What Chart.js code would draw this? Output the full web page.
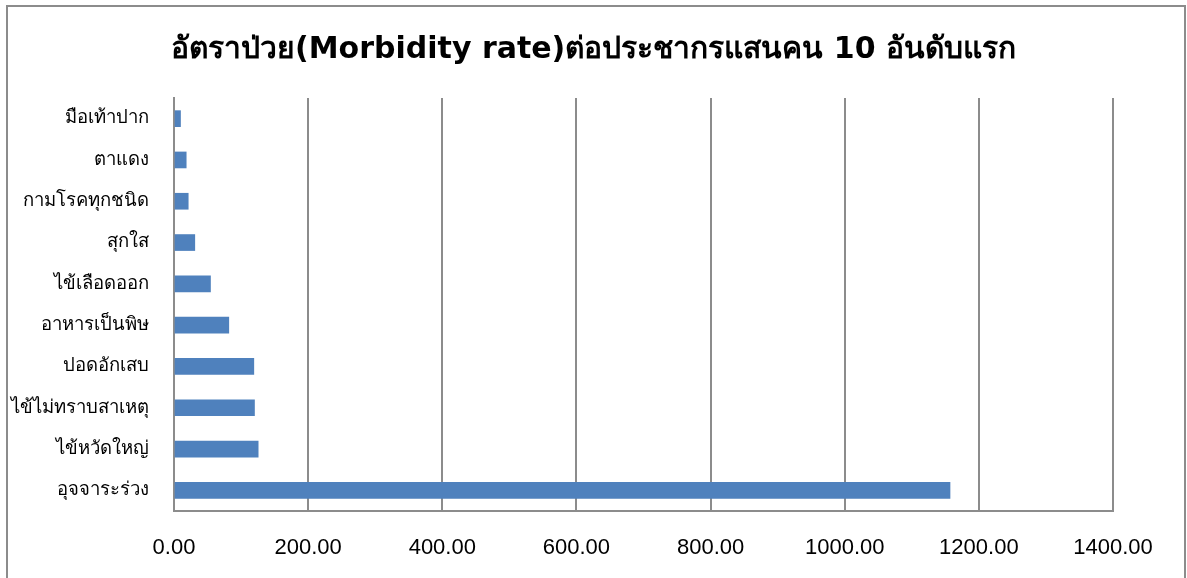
<!DOCTYPE html>
<html>
<head>
<meta charset="utf-8">
<script src="https://cdn.jsdelivr.net/npm/chart.js@4"></script>
<style>
  html, body { margin: 0; padding: 0; background: #fff; }
  #wrap { position: absolute; left: 0; top: 0; width: 1187px; height: 578px; }
  #frame { position: absolute; left: 6px; top: 5px; width: 1180px; height: 600px; border: 2px solid #8c8c8c; box-sizing: border-box; pointer-events: none; }
  canvas { position: absolute; left: 0; top: 0; }
</style>
</head>
<body>
<div id="wrap">
  <canvas id="c" width="1187" height="578"></canvas>
  <div id="frame"></div>
</div>
<script>
const titleText = 'อัตราป่วย(Morbidity rate)ต่อประชากรแสนคน 10 อันดับแรก';
const categories = ['มือเท้าปาก', 'ตาแดง', 'กามโรคทุกชนิด', 'สุกใส', 'ไข้เลือดออก', 'อาหารเป็นพิษ', 'ปอดอักเสบ', 'ไข้ไม่ทราบสาเหตุ', 'ไข้หวัดใหญ่', 'อุจจาระร่วง'];
const rates = [9.7, 18.2, 21.2, 31.0, 54.4, 81.7, 119.0, 120.0, 125.5, 1157.0];
const xMin = 0, xMax = 1400, xStep = 200;

new Chart(document.getElementById('c'), {
  type: 'bar',
  data: {
    labels: categories,
    datasets: [{
      data: rates,
      backgroundColor: '#4F81BD',
      borderWidth: 0,
      barThickness: 16
    }]
  },
  options: {
    indexAxis: 'y',
    responsive: false,
    animation: false,
    layout: { padding: 0 },
    plugins: {
      legend: { display: false },
      tooltip: { enabled: false },
      title: {
        display: true,
        text: titleText,
        color: '#000',
        font: { family: 'Tahoma, "DejaVu Sans", "Noto Sans", sans-serif', size: 30, weight: 'bold', lineHeight: 1.2 },
        padding: { top: 32, bottom: 30 }
      }
    },
    scales: {
      x: {
        min: xMin, max: xMax,
        ticks: {
          stepSize: xStep,
          color: '#000',
          font: { family: '"Liberation Sans", Arial, sans-serif', size: 22 },
          padding: 24,
          callback: v => Number(v).toFixed(2)
        },
        grid: { color: '#8c8c8c', lineWidth: 2, drawTicks: false },
        border: { color: '#8c8c8c', width: 2 },
        afterFit: s => { s.height = 67; }
      },
      y: {
        ticks: {
          color: '#000',
          font: { family: 'Tahoma, "DejaVu Sans", "Noto Sans", sans-serif', size: 18.5 },
          padding: 25,
          autoSkip: false
        },
        grid: { display: false, drawTicks: false },
        border: { color: '#8c8c8c', width: 2 },
        afterFit: s => { s.width = 174; }
      },
      yRight: {
        position: 'right',
        display: true,
        ticks: { display: false },
        grid: { display: false, drawTicks: false },
        border: { display: false },
        afterFit: s => { s.width = 74; }
      }
    }
  }
});
</script>
</body>
</html>
